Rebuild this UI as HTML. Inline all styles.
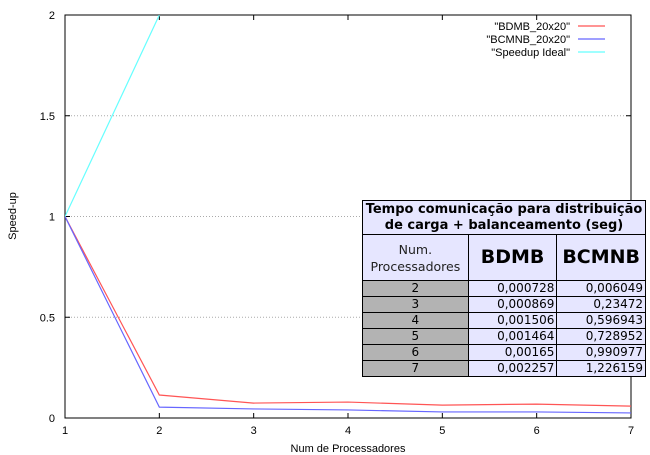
<!DOCTYPE html>
<html><head><meta charset="utf-8"><style>
body{margin:0;background:#fff;width:650px;height:455px;overflow:hidden;position:relative;font-family:"Liberation Sans","DejaVu Sans",sans-serif}
svg{position:absolute;left:0;top:0}
table{position:absolute;left:362px;top:200px;border-collapse:collapse;font-family:"DejaVu Sans","Liberation Sans",sans-serif;font-size:12px;background:#e6e6ff}
td{border:1px solid #000;padding:0 2px;height:15px;line-height:15px}
</style></head><body>
<svg id="chart" width="650" height="455"></svg>
<table>
<tr><td colspan="3" style="text-align:center;font-weight:bold;font-size:13px;line-height:16px;height:33px;width:278px">Tempo comunicação para distribuição de carga + balanceamento (seg)</td></tr>
<tr style="height:46px"><td style="text-align:center;width:100px;font-size:12.5px;line-height:17px;color:#222">Num.<br>Processadores</td><td style="text-align:center;font-weight:bold;font-size:19px;width:83px">BDMB</td><td style="text-align:center;font-weight:bold;font-size:19px;width:83px">BCMNB</td></tr>
<tbody id="rows"></tbody>
</table>
<script>
const procs=[1,2,3,4,5,6,7];
const bdmb=[1,0.114,0.074,0.079,0.064,0.069,0.059];
const bcmnb=[1,0.054,0.045,0.04,0.03,0.03,0.025];
const idealX=[1,2];
const ideal=[1,2];
const yTicks=[0,0.5,1,1.5,2];
const yTickLabels=["0","0.5","1","1.5","2"];
const tblProcs=["2","3","4","5","6","7"];
const tblBdmb=["0,000728","0,000869","0,001506","0,001464","0,00165","0,002257"];
const tblBcmnb=["0,006049","0,23472","0,596943","0,728952","0,990977","1,226159"];

const L=65,R=631,T=15,B=418;
const sx=v=>L+(v-1)/6*(R-L);
const sy=v=>B-v/2*(B-T);
const ns="http://www.w3.org/2000/svg";
const svg=document.getElementById('chart');
function mk(tag,attrs,parent){const e=document.createElementNS(ns,tag);for(const k in attrs)e.setAttribute(k,attrs[k]);(parent||svg).appendChild(e);return e;}
yTicks.forEach((v,i)=>{
  if(v>0&&v<2){const g=mk('line',{x1:L,x2:R,y1:sy(v),y2:sy(v),stroke:'#aaa','stroke-dasharray':'1,2'});
  
  }
  const t=mk('text',{x:L-10,y:sy(v)+4,'text-anchor':'end','font-size':11,fill:'#000'});
  t.textContent=yTickLabels[i];
  
  
  mk('line',{x1:L,x2:L+5,y1:sy(v),y2:sy(v),stroke:'#000'});
  mk('line',{x1:R,x2:R-5,y1:sy(v),y2:sy(v),stroke:'#000'});
});
procs.forEach(p=>{
  const t=mk('text',{x:sx(p),y:B+16,'text-anchor':'middle','font-size':11,fill:'#000'});
  t.textContent=p;
  
  
  mk('line',{x1:sx(p),x2:sx(p),y1:B,y2:B-5,stroke:'#000'});
  mk('line',{x1:sx(p),x2:sx(p),y1:T,y2:T+5,stroke:'#000'});
});
const frame=mk('rect',{x:L,y:T,width:R-L,height:B-T,fill:'none',stroke:'#000'});


const cp=mk('clipPath',{id:'cp'});mk('rect',{x:L,y:T,width:R-L,height:B-T},cp);
function series(xs,ys,color,name){
  const p=mk('polyline',{points:xs.map((x,i)=>sx(x)+','+sy(ys[i])).join(' '),fill:'none',stroke:color,'stroke-width':1.2,'clip-path':'url(#cp)'});
  
  
}
series(procs,bdmb,'#ff5555','series-bdmb');
series(procs,bcmnb,'#6666ff','series-bcmnb');
series(idealX,ideal,'#66ffff','series-speedup-ideal');
const leg=[["\"BDMB_20x20\"",'#ff5555',26],["\"BCMNB_20x20\"",'#6666ff',39],["\"Speedup Ideal\"",'#66ffff',52]];
leg.forEach(l=>{
  const t=mk('text',{x:570,y:l[2]+4,'text-anchor':'end','font-size':11,fill:'#000'});
  t.textContent=l[0];
  
  
  mk('line',{x1:578,x2:605,y1:l[2],y2:l[2],stroke:l[1],'stroke-width':1.2});
});
const xt=mk('text',{x:(L+R)/2,y:452,'text-anchor':'middle','font-size':11,fill:'#000'});
xt.textContent='Num de Processadores';


const yt=mk('text',{x:16,y:216,'text-anchor':'middle','font-size':11,fill:'#000',transform:'rotate(-90 16 216)'});
yt.textContent='Speed-up';


const tb=document.getElementById('rows');
tblProcs.forEach((p,i)=>{
  const tr=document.createElement('tr');
  
  
  tr.innerHTML='<td style="background:#b3b3b3;text-align:center">'+p+'</td><td style="text-align:right">'+tblBdmb[i]+'</td><td style="text-align:right">'+tblBcmnb[i]+'</td>';
  tb.appendChild(tr);
});
</script>
</body></html>
